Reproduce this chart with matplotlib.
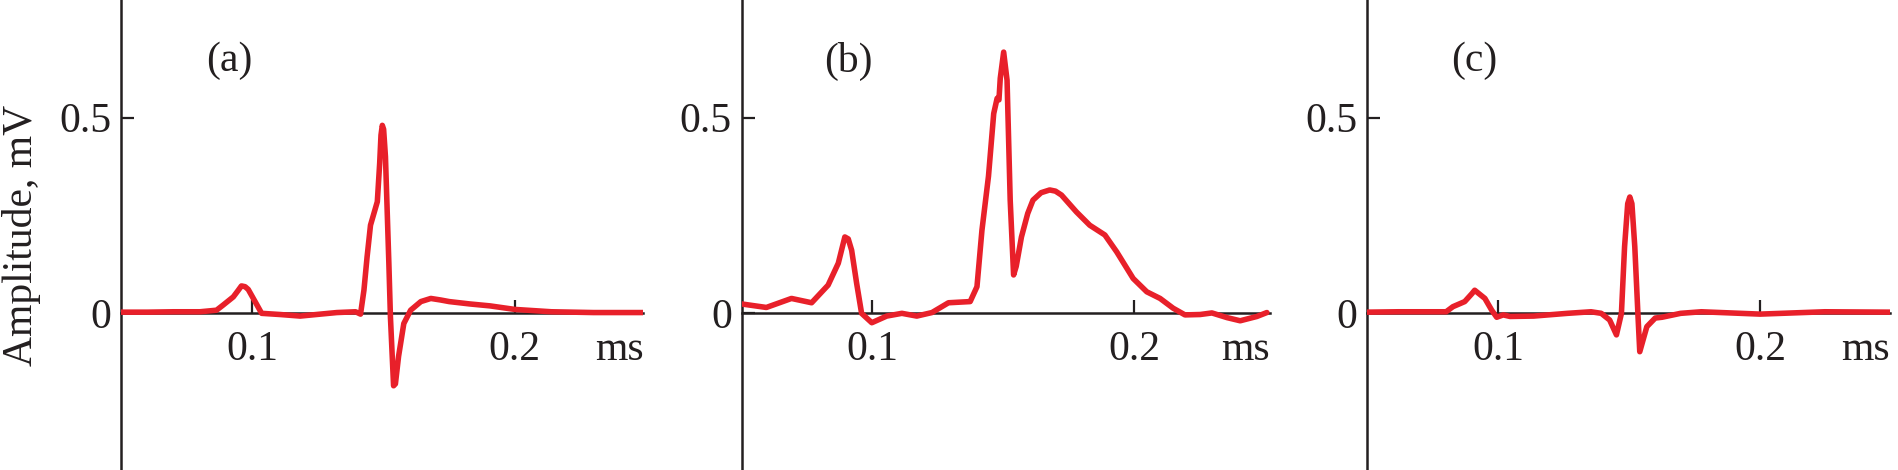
import numpy as np
import matplotlib
matplotlib.use('Agg')
import matplotlib.pyplot as plt

plt.rcParams['font.family'] = ['Liberation Serif', 'DejaVu Serif']

# time, ms / amplitude, mV
t_a = [0.050, 0.060, 0.070, 0.080, 0.0863, 0.0888, 0.0927, 0.0945, 0.0958, 0.0972,
       0.0984, 0.101, 0.1035, 0.1105, 0.1182, 0.1259, 0.1322, 0.1393, 0.1412, 0.1425,
       0.1437, 0.145, 0.1476, 0.1485, 0.1490, 0.1495, 0.1500, 0.1507, 0.152, 0.1526,
       0.1538, 0.1545, 0.1557, 0.1577, 0.1603, 0.1642, 0.168, 0.1718, 0.175, 0.1828,
       0.1906, 0.200, 0.214, 0.230, 0.249]
v_a = [0.003, 0.003, 0.004, 0.004, 0.008, 0.021, 0.042, 0.058, 0.070, 0.068,
       0.061, 0.030, 0.0, -0.003, -0.007, -0.002, 0.002, 0.004, -0.002, 0.059,
       0.144, 0.225, 0.285, 0.383, 0.455, 0.48, 0.47, 0.40, 0.128, -0.009,
       -0.185, -0.18, -0.11, -0.026, 0.008, 0.03, 0.038, 0.034, 0.03, 0.024,
       0.019, 0.010, 0.004, 0.002, 0.002]

t_b = [0.050, 0.0595, 0.0691, 0.0768, 0.0831, 0.087, 0.0895, 0.0908, 0.0921, 0.094,
       0.0959, 0.0998, 0.1055, 0.1113, 0.117, 0.1228, 0.1291, 0.1374, 0.140, 0.1419,
       0.1444, 0.1464, 0.1477, 0.1484, 0.1489, 0.1502, 0.1515, 0.1527, 0.1540, 0.1550,
       0.1570, 0.1594, 0.1614, 0.1645, 0.1678, 0.170, 0.1723, 0.178, 0.1831, 0.1889,
       0.1934, 0.1997, 0.2049, 0.210, 0.215, 0.2195, 0.2253, 0.2298, 0.2356, 0.2406,
       0.247, 0.2508]
v_b = [0.024, 0.015, 0.038, 0.027, 0.072, 0.128, 0.195, 0.19, 0.161, 0.077,
       0.0, -0.024, -0.007, 0.0, -0.007, 0.002, 0.027, 0.030, 0.068, 0.212,
       0.35, 0.51, 0.549, 0.545, 0.60, 0.667, 0.595, 0.289, 0.098, 0.12,
       0.195, 0.255, 0.289, 0.308, 0.315, 0.312, 0.302, 0.259, 0.225, 0.2,
       0.157, 0.089, 0.055, 0.038, 0.013, -0.004, -0.003, 0.001, -0.011, -0.019,
       -0.008, 0.002]

t_c = [0.050, 0.062, 0.0802, 0.0828, 0.0873, 0.0900, 0.0911, 0.095, 0.0976, 0.0995,
       0.102, 0.1046, 0.1136, 0.1265, 0.1355, 0.1394, 0.1426, 0.1452, 0.1471, 0.1483,
       0.1495, 0.1503, 0.1511, 0.1522, 0.1535, 0.1541, 0.1568, 0.160, 0.1626, 0.1697,
       0.1776, 0.200, 0.2247, 0.2496]
v_c = [0.003, 0.004, 0.004, 0.017, 0.03, 0.05, 0.059, 0.038, 0.008, -0.01,
       -0.004, -0.008, -0.007, 0.0, 0.004, 0.0, -0.017, -0.055, 0.0, 0.17,
       0.28, 0.297, 0.28, 0.17, -0.017, -0.098, -0.034, -0.012, -0.01, 0.0,
       0.004, -0.002, 0.004, 0.003]

panels = ['(a)', '(b)', '(c)']
xticks = [0.1, 0.2]
yticks = [0, 0.5]
xmax = [0.249, 0.252, 0.2496]

red = '#e8202a'
ink = '#231f20'
fs = 30

fig = plt.figure(figsize=(18.98, 4.70), dpi=100)
lefts = [121.3/1898, 741.5/1898, 1367/1898]
widths = [522/1898, 528.5/1898, 523/1898]

for i, (t, v) in enumerate([(t_a, v_a), (t_b, v_b), (t_c, v_c)]):
    ax = fig.add_axes([lefts[i], 0, widths[i], 1])
    ax.plot(t, v, color=red, lw=4.0, solid_joinstyle='round', solid_capstyle='round', zorder=3)
    ax.set_xlim(0.05, xmax[i])
    ax.set_ylim(-0.4, 0.8)
    for s in ['top', 'right']:
        ax.spines[s].set_visible(False)
    ax.spines['bottom'].set_position(('data', 0))
    for s in ['left', 'bottom']:
        ax.spines[s].set_linewidth(1.8)
        ax.spines[s].set_color(ink)
    ax.set_xticks(xticks)
    ax.set_xticklabels(['0.1', '0.2'])
    ax.set_yticks(yticks)
    ax.set_yticklabels(['0', '0.5'])
    ax.tick_params(direction='in', length=9.4, width=1.6, colors=ink, labelsize=fs)
    ax.tick_params(axis='x', pad=12)
    ax.tick_params(axis='y', pad=7)
    ax.patch.set_visible(False)
    ax.annotate('ms', xy=(1, 0), xycoords=('axes fraction', 'data'), xytext=(0, -12),
                textcoords='offset points', ha='right', va='top', fontsize=fs, color=ink)
    ax.text(0.091, 0.644, panels[i], ha='center', va='center', fontsize=fs, color=ink)

fig.text(22/1898, 0.5, 'Amplitude, mV', rotation=90, ha='center', va='center',
         fontsize=fs, color=ink)

plt.savefig('out.png', dpi=100)
